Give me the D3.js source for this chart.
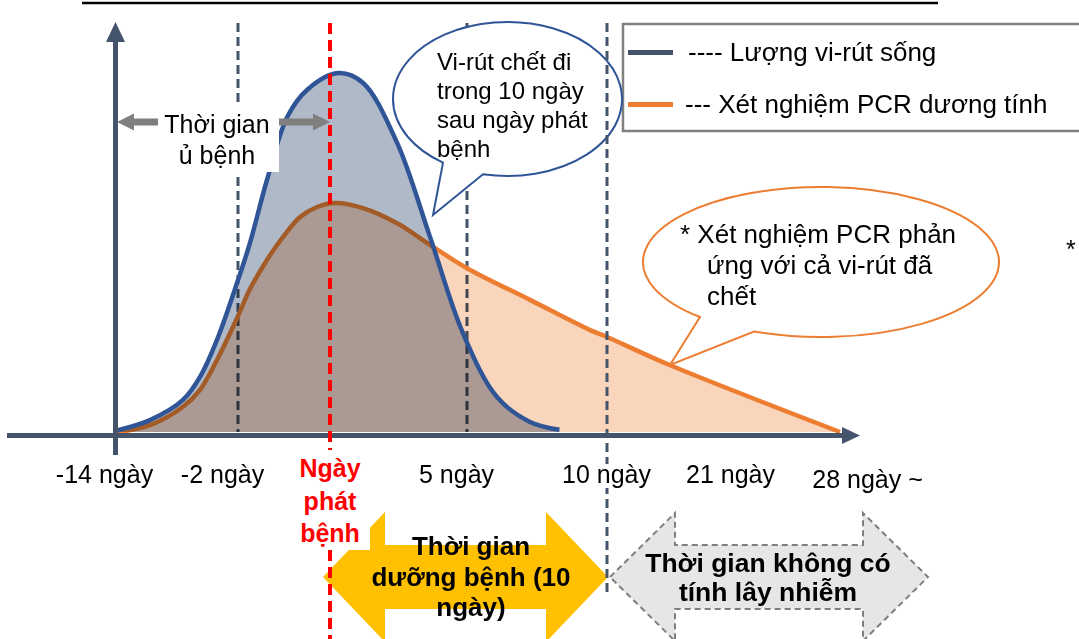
<!DOCTYPE html>
<html>
<head>
<meta charset="utf-8">
<script src="https://cdn.jsdelivr.net/npm/d3@7"></script>
<style>
  body { margin: 0; background: #fff; }
  svg { display: block; font-family: "Liberation Sans", Arial, sans-serif; }
</style>
</head>
<body>
<div class="canvas"></div>
<script>

// data (days since symptom onset, relative level 0-100)
const dayTicks = [-14, -2, 0, 5, 10, 21, 28]
const tickLabels = ['-14 ngày', '-2 ngày', 'Ngày phát bệnh', '5 ngày', '10 ngày', '21 ngày', '28 ngày ~']

const liveDays = [-14, -10.8, -7.5, -5.8, -4.1, -2, -1.74, -1.37, -0.93, -0.5, 0.29, 1.2, 2.45, 3.65, 4.85, 6.07, 7.25, 8.3]
const liveVirus = [0.5, 3.3, 8.9, 15.3, 25.6, 42.2, 52.5, 70, 87.5, 95, 99.7, 97, 80.3, 54.2, 27.5, 9.7, 2.8, 0.6]

const pcrDays = [-14, -10.8, -7.5, -5.8, -4.1, -2, -1.74, -1.37, -1.02, -0.65, -0.28, 0.18, 1.2, 2.45, 3.65, 5, 7.25, 9.4, 10, 15.3, 28]
const pcrPositive = [0, 1.9, 7, 11.7, 20, 32.2, 39.7, 47.8, 54.2, 59.7, 62.5, 63.6, 62.2, 58, 52, 45.5, 36.7, 28.3, 26.4, 18.6, 0]

const legendNames = ['---- Lượng vi-rút sống', '--- Xét nghiệm PCR dương tính']

// svg
const svg = d3.select('.canvas')
  .append('svg')
  .attr('width', 1079)
  .attr('height', 639)

// scales (the x axis is not evenly spaced in the picture)
const x = d3.scaleLinear()
  .domain(dayTicks)
  .range([118, 238, 330, 467, 607, 737, 840])

const y = d3.scaleLinear()
  .domain([0, 100])
  .range([432, 72])

const live = liveDays.map((d, i) => ({day: d, v: liveVirus[i]}))
const pcr = pcrDays.map((d, i) => ({day: d, v: pcrPositive[i]}))

const slate = '#44546a'
const blue = '#2f5597'
const orange = '#ed7d31'

// top rule
svg.append('line')
  .attr('x1', 82).attr('x2', 938).attr('y1', 3).attr('y2', 3)
  .attr('stroke', '#000').attr('stroke-width', 2.5)

// dashed day markers under the curves
const dashed = (day, y1, y2) => svg.append('line')
  .attr('x1', x(day)).attr('x2', x(day))
  .attr('y1', y1).attr('y2', y2)
  .attr('stroke', slate).attr('stroke-width', 3)
  .attr('stroke-dasharray', '9,5')

dashed(-2, 23, 432)
dashed(5, 23, 432)

// areas + lines
const curve = d3.curveCatmullRom.alpha(0.5)

const area = d3.area()
  .x(d => x(d.day))
  .y0(y(0))
  .y1(d => y(d.v))
  .curve(curve)

const line = d3.line()
  .x(d => x(d.day))
  .y(d => y(d.v))
  .curve(curve)

svg.append('path').datum(pcr)
  .attr('d', area)
  .attr('fill', '#f9d5bc')
  .style('mix-blend-mode', 'multiply')

svg.append('path').datum(pcr)
  .attr('d', line)
  .attr('fill', 'none')
  .attr('stroke', orange).attr('stroke-width', 4.5)

svg.append('path').datum(live)
  .attr('d', area)
  .attr('fill', '#afb9c8')
  .style('mix-blend-mode', 'multiply')

svg.append('path').datum(live)
  .attr('d', line)
  .attr('fill', 'none')
  .attr('stroke', blue).attr('stroke-width', 4.5)

// axes with arrow heads
svg.append('rect')
  .attr('x', x(-14) - 5).attr('y', 40).attr('width', 5).attr('height', 415)
  .attr('fill', slate)
svg.append('path')
  .attr('d', `M${x(-14) - 12},42 L${x(-14) + 7},42 L${x(-14) - 2.5},22 Z`)
  .attr('fill', slate)

svg.append('rect')
  .attr('x', 7).attr('y', 433).attr('width', 837).attr('height', 5)
  .attr('fill', slate)
svg.append('path')
  .attr('d', 'M842,427 L842,444 L860,435.5 Z')
  .attr('fill', slate)

// legend
const legend = svg.append('g')
legend.append('rect')
  .attr('x', 623).attr('y', 24).attr('width', 470).attr('height', 107)
  .attr('fill', '#fff').attr('stroke', '#7f7f7f').attr('stroke-width', 2.5)

legendNames.forEach((name, i) => {
  const ly = i === 0 ? 52.5 : 104.5
  legend.append('rect')
    .attr('x', 628).attr('y', ly - 2.5).attr('width', 45).attr('height', 5)
    .attr('fill', i === 0 ? slate : orange)
  legend.append('text')
    .attr('x', i === 0 ? 688 : 685).attr('y', ly + 8)
    .attr('font-size', 26).attr('fill', '#000')
    .text(name)
})

// speech bubbles
const bubble = (cx, cy, rx, ry, x1, x2, tip, color) => {
  const ey = xx => cy + ry * Math.sqrt(1 - ((xx - cx) / rx) ** 2)
  svg.append('path')
    .attr('d', `M${x2},${ey(x2)} A${rx},${ry} 0 1 0 ${x1},${ey(x1)} L${tip[0]},${tip[1]} Z`)
    .attr('fill', '#fff').attr('stroke', color).attr('stroke-width', 2)
}

bubble(507.5, 99, 114.5, 77, 443, 483, [433, 215], blue)
const blueLines = ['Vi-rút chết đi', 'trong 10 ngày', 'sau ngày phát', 'bệnh']
blueLines.forEach((t, i) => {
  svg.append('text')
    .attr('x', 437).attr('y', 70 + i * 29)
    .attr('font-size', 24)
    .text(t)
})

bubble(821, 262, 178, 75, 700, 754, [670, 365], orange)
const orangeLines = ['* Xét nghiệm PCR phản', 'ứng với cả vi-rút đã', 'chết']
orangeLines.forEach((t, i) => {
  svg.append('text')
    .attr('x', i === 0 ? 680 : 707).attr('y', 243 + i * 31)
    .attr('font-size', 26)
    .text(t)
})

svg.append('text')
  .attr('x', 1066).attr('y', 258)
  .attr('font-size', 25)
  .text('*')

// incubation label
svg.append('rect')
  .attr('x', 157).attr('y', 105).attr('width', 122).attr('height', 67)
  .attr('fill', '#fff')
svg.append('path')
  .attr('d', 'M117,122 L134,113.5 L134,118.5 L158,118.5 L158,125.5 L134,125.5 L134,130.5 Z')
  .attr('fill', '#7f7f7f')
svg.append('path')
  .attr('d', `M${x(0)},122 L313,113.5 L313,118.5 L279,118.5 L279,125.5 L313,125.5 L313,130.5 Z`)
  .attr('fill', '#7f7f7f')
;['Thời gian', 'ủ bệnh'].forEach((t, i) => {
  svg.append('text')
    .attr('x', 217).attr('y', 133 + i * 31)
    .attr('text-anchor', 'middle')
    .attr('font-size', 25)
    .text(t)
})

// period arrows
const dblArrow = (left, right, cyy, half, shaftHalf, head) =>
  `M${left},${cyy} L${left + head},${cyy - half} L${left + head},${cyy - shaftHalf} ` +
  `L${right - head},${cyy - shaftHalf} L${right - head},${cyy - half} L${right},${cyy} ` +
  `L${right - head},${cyy + half} L${right - head},${cyy + shaftHalf} L${left + head},${cyy + shaftHalf} ` +
  `L${left + head},${cyy + half} Z`

svg.append('path')
  .attr('d', dblArrow(x(0) - 7, x(10) + 1, 577, 65, 32, 62))
  .attr('fill', '#ffc000')

svg.append('path')
  .attr('d', dblArrow(x(10) + 3, 928, 577, 64, 32, 65))
  .attr('fill', '#e7e6e6')
  .attr('stroke', '#7f7f7f').attr('stroke-width', 2)
  .attr('stroke-dasharray', '6,4')

;['Thời gian', 'dưỡng bệnh (10', 'ngày)'].forEach((t, i) => {
  svg.append('text')
    .attr('x', 471).attr('y', [555, 586, 616][i])
    .attr('text-anchor', 'middle')
    .attr('font-size', 26).attr('font-weight', 'bold')
    .text(t)
})

;['Thời gian không có', 'tính lây nhiễm'].forEach((t, i) => {
  svg.append('text')
    .attr('x', 768).attr('y', 572 + i * 29)
    .attr('text-anchor', 'middle')
    .attr('font-size', 26.5).attr('font-weight', 'bold')
    .text(t)
})

// onset line
svg.append('line')
  .attr('x1', x(0)).attr('x2', x(0))
  .attr('y1', 23).attr('y2', 639)
  .attr('stroke', '#ff0000').attr('stroke-width', 4)
  .attr('stroke-dasharray', '11,6')

// 10-day marker over the arrows
dashed(10, 23, 595)

// x tick labels through d3 axis
const labelNudge = [-14, -16, 0, -11, -1, -7, 27]
const xAxis = d3.axisBottom(x)
  .tickValues(dayTicks.filter(d => d !== 0))
  .tickSize(0)
  .tickFormat(d => tickLabels[dayTicks.indexOf(d)])

const xAxisGroup = svg.append('g')
  .call(xAxis)

xAxisGroup.select('.domain').remove()
xAxisGroup.selectAll('.tick text')
  .attr('font-family', '"Liberation Sans", Arial, sans-serif')
  .attr('font-size', 25)
  .attr('fill', '#000')
  .attr('dy', null)
  .attr('y', d => d === 28 ? 488 : 483)
  .attr('x', d => labelNudge[dayTicks.indexOf(d)])

// white backing behind the labels (hides the dashed marker)
xAxisGroup.selectAll('.tick').each(function() {
  const t = d3.select(this).select('text')
  const b = t.node().getBBox()
  d3.select(this).insert('rect', 'text')
    .attr('x', b.x).attr('y', b.y + 4).attr('width', b.width).attr('height', b.height - 4)
    .attr('fill', '#fff')
})

// onset label
svg.append('rect')
  .attr('x', 288).attr('y', 450).attr('width', 82).attr('height', 100)
  .attr('fill', '#fff')
;['Ngày', 'phát', 'bệnh'].forEach((t, i) => {
  svg.append('text')
    .attr('x', x(0)).attr('y', 477 + i * 32.5)
    .attr('text-anchor', 'middle')
    .attr('font-size', 25).attr('font-weight', 'bold')
    .attr('fill', '#ff0000')
    .text(t)
})

</script>
</body>
</html>
